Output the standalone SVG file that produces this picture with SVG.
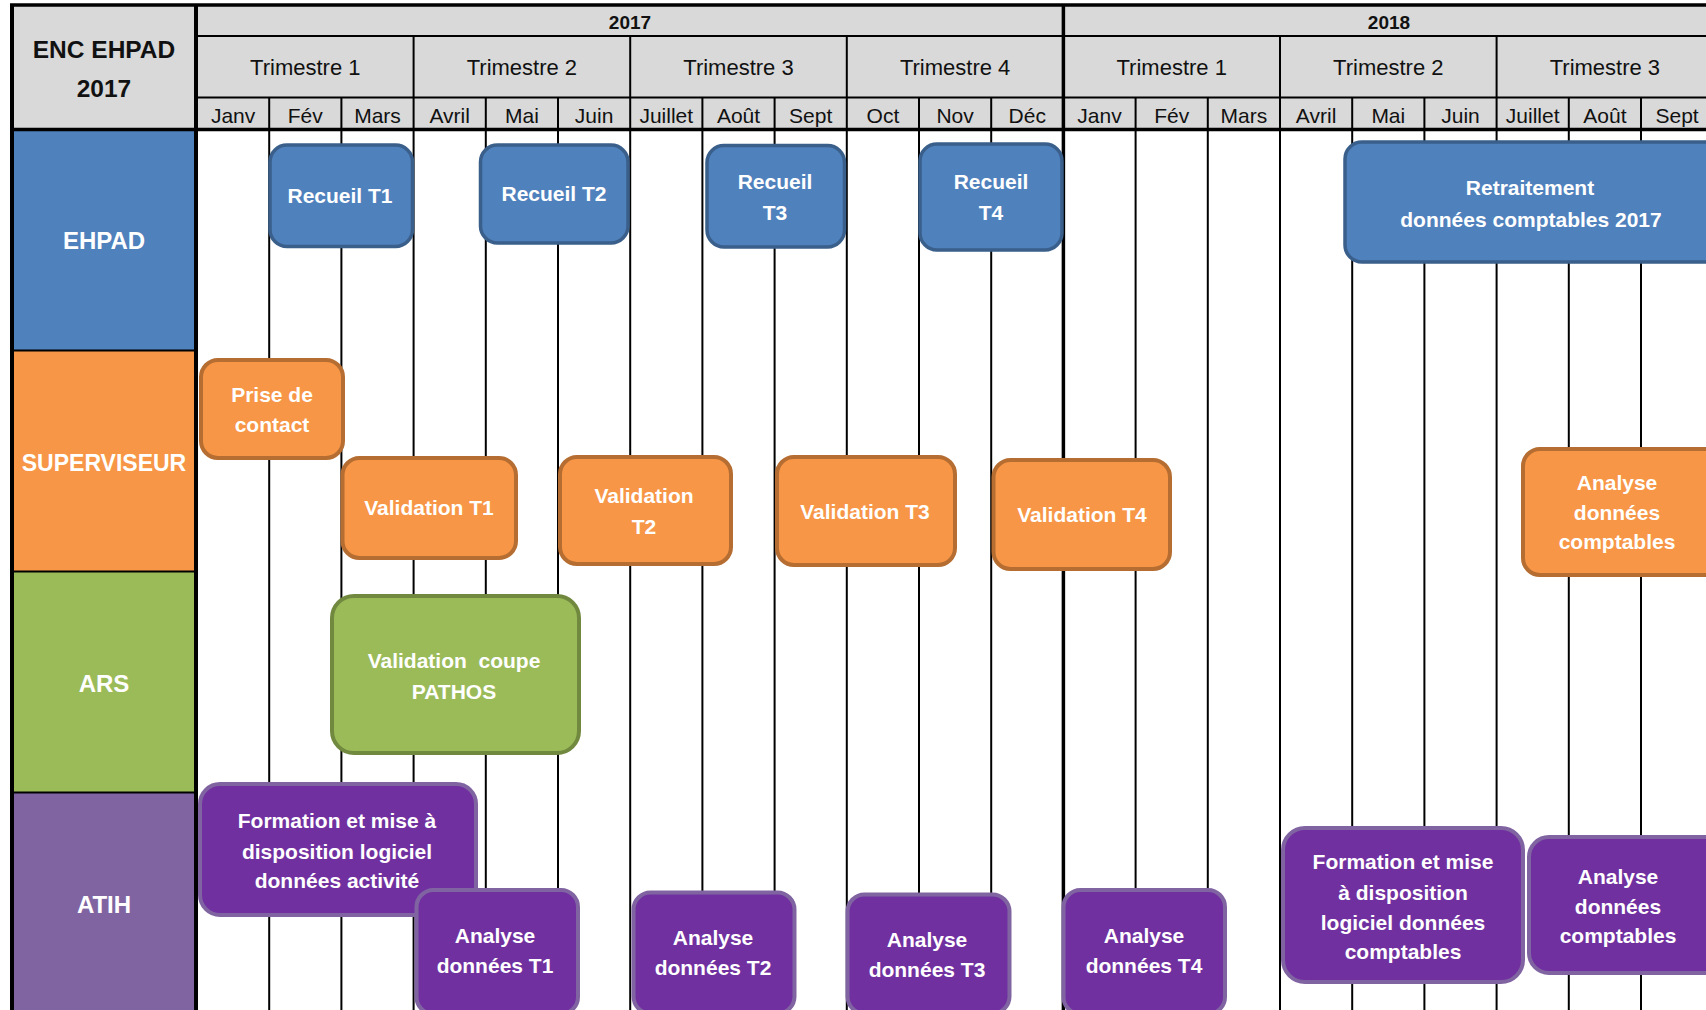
<svg xmlns="http://www.w3.org/2000/svg" width="1706" height="1010" viewBox="0 0 1706 1010">
<style>
.hdr{fill:#d9d9d9}
.gl{stroke:#000;stroke-width:2}
.gt{stroke:#000;stroke-width:3.5}
.ht{font-family:"Liberation Sans",Arial,sans-serif;fill:#111;text-anchor:middle}
.mo{font-size:21px}
.tr{font-size:22px}
.yr{font-size:19px;font-weight:bold}
.lab{font-family:"Liberation Sans",Arial,sans-serif;font-weight:bold;font-size:24px;fill:#fff;text-anchor:middle}
.nt{font-family:"Liberation Sans",Arial,sans-serif;font-weight:bold;font-size:21px;fill:#fff;text-anchor:middle}
.blue{fill:#4f81bd;stroke:#3a5f8b;stroke-width:3.5}
.orange{fill:#f79646;stroke:#b66d31;stroke-width:4}
.green{fill:#9bbb59;stroke:#71893f;stroke-width:4}
.purple{fill:#7030a0;stroke:#8064a2;stroke-width:4}
</style>
<rect x="0" y="0" width="1706" height="1010" fill="#fff"/>

<g id="header">
  <rect class="hdr" x="12" y="5" width="1694" height="124.5"/>
  <text class="ht" x="104" y="58" style="font-size:24.5px;font-weight:bold">ENC EHPAD</text>
  <text class="ht" x="104" y="97" style="font-size:24.5px;font-weight:bold">2017</text>
  <text class="ht yr" x="630" y="29">2017</text>
  <text class="ht yr" x="1389" y="29">2018</text>
  <g class="ht tr">
    <text x="305.3" y="75">Trimestre 1</text>
    <text x="521.9" y="75">Trimestre 2</text>
    <text x="738.5" y="75">Trimestre 3</text>
    <text x="955.1" y="75">Trimestre 4</text>
    <text x="1171.7" y="75">Trimestre 1</text>
    <text x="1388.3" y="75">Trimestre 2</text>
    <text x="1604.9" y="75">Trimestre 3</text>
  </g>
  <g class="ht mo">
    <text x="233.1" y="123">Janv</text>
    <text x="305.3" y="123">Fév</text>
    <text x="377.5" y="123">Mars</text>
    <text x="449.7" y="123">Avril</text>
    <text x="521.9" y="123">Mai</text>
    <text x="594.1" y="123">Juin</text>
    <text x="666.3" y="123">Juillet</text>
    <text x="738.5" y="123">Août</text>
    <text x="810.7" y="123">Sept</text>
    <text x="882.9" y="123">Oct</text>
    <text x="955.1" y="123">Nov</text>
    <text x="1027.3" y="123">Déc</text>
    <text x="1099.5" y="123">Janv</text>
    <text x="1171.7" y="123">Fév</text>
    <text x="1243.9" y="123">Mars</text>
    <text x="1316.1" y="123">Avril</text>
    <text x="1388.3" y="123">Mai</text>
    <text x="1460.5" y="123">Juin</text>
    <text x="1532.7" y="123">Juillet</text>
    <text x="1604.9" y="123">Août</text>
    <text x="1677.1" y="123">Sept</text>
  </g>
</g>

<g id="bands">
  <rect x="12" y="129.5" width="185" height="221" fill="#4f81bd"/>
  <rect x="12" y="350.5" width="185" height="221" fill="#f79646"/>
  <rect x="12" y="571.5" width="185" height="221" fill="#9bbb59"/>
  <rect x="12" y="792.5" width="185" height="220" fill="#8064a2"/>
  <text class="lab" x="104" y="249">EHPAD</text>
  <text class="lab" x="104" y="471" style="font-size:23px">SUPERVISEUR</text>
  <text class="lab" x="104" y="692">ARS</text>
  <text class="lab" x="104" y="913">ATIH</text>
</g>

<g id="grid">
  <line class="gt" x1="10" y1="5" x2="1706" y2="5"/>
  <line class="gl" x1="197" y1="36" x2="1706" y2="36"/>
  <line class="gl" x1="197" y1="97.5" x2="1706" y2="97.5"/>
  <line class="gt" x1="10" y1="129.5" x2="1706" y2="129.5"/>
  <line class="gl" x1="12" y1="350.5" x2="197" y2="350.5"/>
  <line class="gl" x1="12" y1="571.5" x2="197" y2="571.5"/>
  <line class="gl" x1="12" y1="792.5" x2="197" y2="792.5"/>
  <line x1="12" y1="4" x2="12" y2="1010" stroke="#000" stroke-width="4"/>
  <line x1="196" y1="4" x2="196" y2="1010" stroke="#000" stroke-width="4"/>
  <line class="gt" x1="1063.4" y1="5" x2="1063.4" y2="1010"/>
  <line class="gl" x1="413.6" y1="36" x2="413.6" y2="1010"/>
  <line class="gl" x1="630.2" y1="36" x2="630.2" y2="1010"/>
  <line class="gl" x1="846.8" y1="36" x2="846.8" y2="1010"/>
  <line class="gl" x1="1280" y1="36" x2="1280" y2="1010"/>
  <line class="gl" x1="1496.6" y1="36" x2="1496.6" y2="1010"/>
  <line class="gl" x1="269.2" y1="97.5" x2="269.2" y2="1010"/>
  <line class="gl" x1="341.4" y1="97.5" x2="341.4" y2="1010"/>
  <line class="gl" x1="485.8" y1="97.5" x2="485.8" y2="1010"/>
  <line class="gl" x1="558" y1="97.5" x2="558" y2="1010"/>
  <line class="gl" x1="702.4" y1="97.5" x2="702.4" y2="1010"/>
  <line class="gl" x1="774.6" y1="97.5" x2="774.6" y2="1010"/>
  <line class="gl" x1="919" y1="97.5" x2="919" y2="1010"/>
  <line class="gl" x1="991.2" y1="97.5" x2="991.2" y2="1010"/>
  <line class="gl" x1="1135.6" y1="97.5" x2="1135.6" y2="1010"/>
  <line class="gl" x1="1207.8" y1="97.5" x2="1207.8" y2="1010"/>
  <line class="gl" x1="1352.2" y1="97.5" x2="1352.2" y2="1010"/>
  <line class="gl" x1="1424.4" y1="97.5" x2="1424.4" y2="1010"/>
  <line class="gl" x1="1568.8" y1="97.5" x2="1568.8" y2="1010"/>
  <line class="gl" x1="1641" y1="97.5" x2="1641" y2="1010"/>
</g>

<g id="connectors"></g>

<g id="recueil-t1"><rect class="blue" x="270" y="145" width="142.5" height="101.5" rx="17"/><text class="nt" x="340" y="203">Recueil T1</text></g>
<g id="recueil-t2"><rect class="blue" x="480.5" y="145" width="147.5" height="98" rx="17"/><text class="nt" x="554" y="201">Recueil T2</text></g>
<g id="recueil-t3"><rect class="blue" x="707" y="145.5" width="137.5" height="101.5" rx="17"/><text class="nt" x="775" y="189">Recueil</text><text class="nt" x="775" y="220">T3</text></g>
<g id="recueil-t4"><rect class="blue" x="920" y="144" width="142" height="106" rx="17"/><text class="nt" x="991" y="189">Recueil</text><text class="nt" x="991" y="220">T4</text></g>
<g id="retraitement"><rect class="blue" x="1345" y="142" width="380" height="120" rx="17"/><text class="nt" x="1530" y="195">Retraitement</text><text class="nt" x="1531" y="227">données comptables 2017</text></g>

<g id="prise-contact"><rect class="orange" x="201" y="360" width="142" height="98" rx="17"/><text class="nt" x="272" y="402">Prise de</text><text class="nt" x="272" y="432">contact</text></g>
<g id="validation-t1"><rect class="orange" x="342.5" y="458" width="173.5" height="100" rx="17"/><text class="nt" x="429" y="515">Validation T1</text></g>
<g id="validation-t2"><rect class="orange" x="560" y="457" width="171" height="107" rx="17"/><text class="nt" x="644" y="503">Validation</text><text class="nt" x="644" y="534">T2</text></g>
<g id="validation-t3"><rect class="orange" x="777" y="457" width="178" height="108" rx="17"/><text class="nt" x="865" y="519">Validation T3</text></g>
<g id="validation-t4"><rect class="orange" x="993.5" y="460" width="176.5" height="109" rx="17"/><text class="nt" x="1082" y="522">Validation T4</text></g>
<g id="analyse-comptables-sup"><rect class="orange" x="1523" y="449" width="200" height="126" rx="17"/><text class="nt" x="1617" y="490">Analyse</text><text class="nt" x="1617" y="520">données</text><text class="nt" x="1617" y="549">comptables</text></g>

<g id="validation-pathos"><rect class="green" x="332" y="596" width="247" height="157" rx="22"/><text class="nt" x="454" y="668" xml:space="preserve" style="white-space:pre">Validation  coupe</text><text class="nt" x="454" y="699">PATHOS</text></g>

<g id="formation-activite"><rect class="purple" x="200" y="784" width="276" height="131" rx="20"/><text class="nt" x="337" y="828">Formation et mise à</text><text class="nt" x="337" y="859">disposition logiciel</text><text class="nt" x="337" y="888">données activité</text></g>
<g id="analyse-t1"><rect class="purple" x="416.5" y="890" width="161.5" height="124" rx="17"/><text class="nt" x="495" y="943">Analyse</text><text class="nt" x="495" y="973">données T1</text></g>
<g id="analyse-t2"><rect class="purple" x="633.5" y="892.5" width="161" height="121" rx="17"/><text class="nt" x="713" y="945">Analyse</text><text class="nt" x="713" y="975">données T2</text></g>
<g id="analyse-t3"><rect class="purple" x="847.5" y="894.5" width="162" height="119" rx="17"/><text class="nt" x="927" y="947">Analyse</text><text class="nt" x="927" y="977">données T3</text></g>
<g id="analyse-t4"><rect class="purple" x="1063.5" y="890" width="161.5" height="124" rx="17"/><text class="nt" x="1144" y="943">Analyse</text><text class="nt" x="1144" y="973">données T4</text></g>
<g id="formation-comptables"><rect class="purple" x="1283" y="828" width="240" height="154" rx="22"/><text class="nt" x="1403" y="869">Formation et mise</text><text class="nt" x="1403" y="900">à disposition</text><text class="nt" x="1403" y="930">logiciel données</text><text class="nt" x="1403" y="959">comptables</text></g>
<g id="analyse-comptables-atih"><rect class="purple" x="1529" y="837" width="195" height="136" rx="20"/><text class="nt" x="1618" y="884">Analyse</text><text class="nt" x="1618" y="914">données</text><text class="nt" x="1618" y="943">comptables</text></g>
</svg>
